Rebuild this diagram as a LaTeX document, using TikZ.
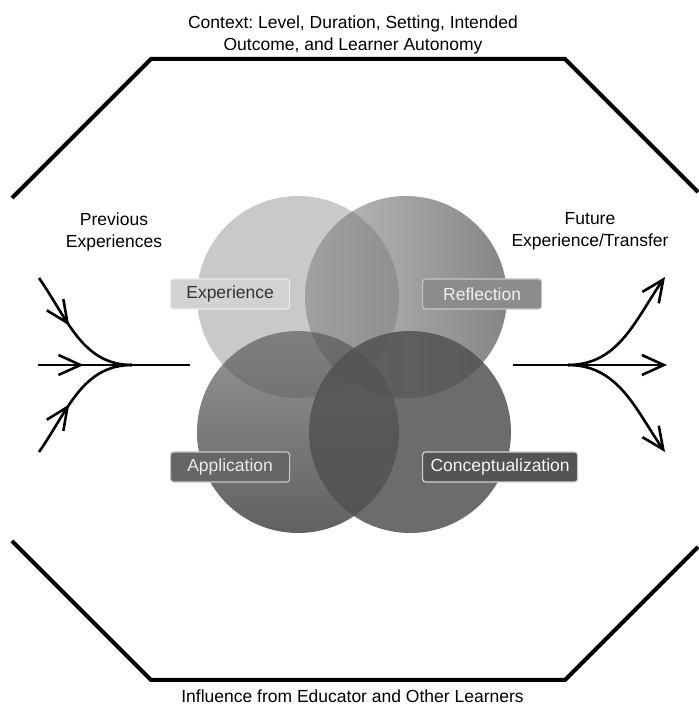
\documentclass[tikz,border=0pt]{standalone}
\usepackage{fontspec}
\setmainfont{Liberation Sans}
\usetikzlibrary{arrows.meta,decorations.markings,fadings}

\tikzfading[name=fade west, left color=transparent!55, right color=transparent!15]
\tikzfading[name=fade north, top color=transparent!40, bottom color=transparent!10]

\definecolor{expfill}{gray}{0.79}
\definecolor{reflfill}{gray}{0.44}
\definecolor{appfill}{gray}{0.31}
\definecolor{concfill}{gray}{0.32}

\tikzset{
  octa/.style={line width=4pt, line join=miter},
  flow/.style={line width=2.6pt},
  barb/.style={-{Straight Barb[length=22pt,width=20pt]}},
  midbarb/.style={postaction={decorate}, decoration={markings,
      mark=at position #1 with {\arrow{Straight Barb[length=22pt,width=20pt]}}}},
  tagbox/.style={anchor=west, rounded corners=3pt, minimum width=119pt,
      minimum height=30pt, inner xsep=8pt, line width=1.2pt,
      font=\fontsize{17.5}{21}\selectfont},
  txt/.style={align=center, font=\fontsize{17.5}{22}\selectfont\frenchspacing}
}

\begin{document}
\begin{tikzpicture}[x=1pt,y=1pt]
\useasboundingbox (0,0) rectangle (698,706);
% frame
\draw[octa] (12,508) -- (151,647) -- (565,647) -- (698,514);
\draw[octa] (12,165) -- (151,26) -- (565,26) -- (698,159);
% circles
\fill[expfill] (298,409) circle[radius=101];
\fill[reflfill, path fading=fade west] (406,409) circle[radius=101];
\fill[appfill, path fading=fade north] (298,274) circle[radius=101];
\fill[concfill, fill opacity=0.85] (410,274) circle[radius=101];
% labels
\node[tagbox, fill=gray!35, draw=gray!15, text=black!80] (exp) at (170,412) {Experience};
\node[tagbox, fill=gray!90!white, draw=gray!45, text=white!94!black] (refl) at (422,412) {Reflection};
\node[tagbox, fill=black!60, draw=gray!45, text=white!92!black] (app) at (170,239) {Application};
\node[tagbox, fill=black!67, draw=gray!35, text=white!96!black] (conc) at (422,239) {Conceptualization};
% texts
\node[txt] (context) at (353,671.5) {Context: Level, Duration, Setting, Intended\\Outcome, and Learner Autonomy};
\node[txt] (prev) at (114,474.5) {Previous\\Experiences};
\node[txt] (future) at (590,474.5) {Future\\Experience/Transfer};
\node[txt, anchor=base] (influence) at (352.5,4) {Influence from Educator and Other Learners};
% incoming
\coordinate (inA) at (39,428);
\coordinate (inB) at (38,341);
\coordinate (inC) at (39,254);
\coordinate (join) at (132,341);
\coordinate (stemL) at (190,341);
\draw[flow, midbarb=0.42] (inA) to[out=-55,in=180] (join);
\draw[flow, midbarb=0.3] (inB) -- (stemL);
\draw[flow, midbarb=0.42] (inC) to[out=55,in=180] (join);
% outgoing
\coordinate (stemR) at (513,341);
\coordinate (split) at (568,341);
\coordinate (outA) at (665,429);
\coordinate (outB) at (667,341);
\coordinate (outC) at (665,254);
\draw[flow, barb] (stemR) -- (outB);
\draw[flow, barb] (split) to[out=0,in=235] (outA);
\draw[flow, barb] (split) to[out=0,in=125] (outC);
\end{tikzpicture}
\end{document}
